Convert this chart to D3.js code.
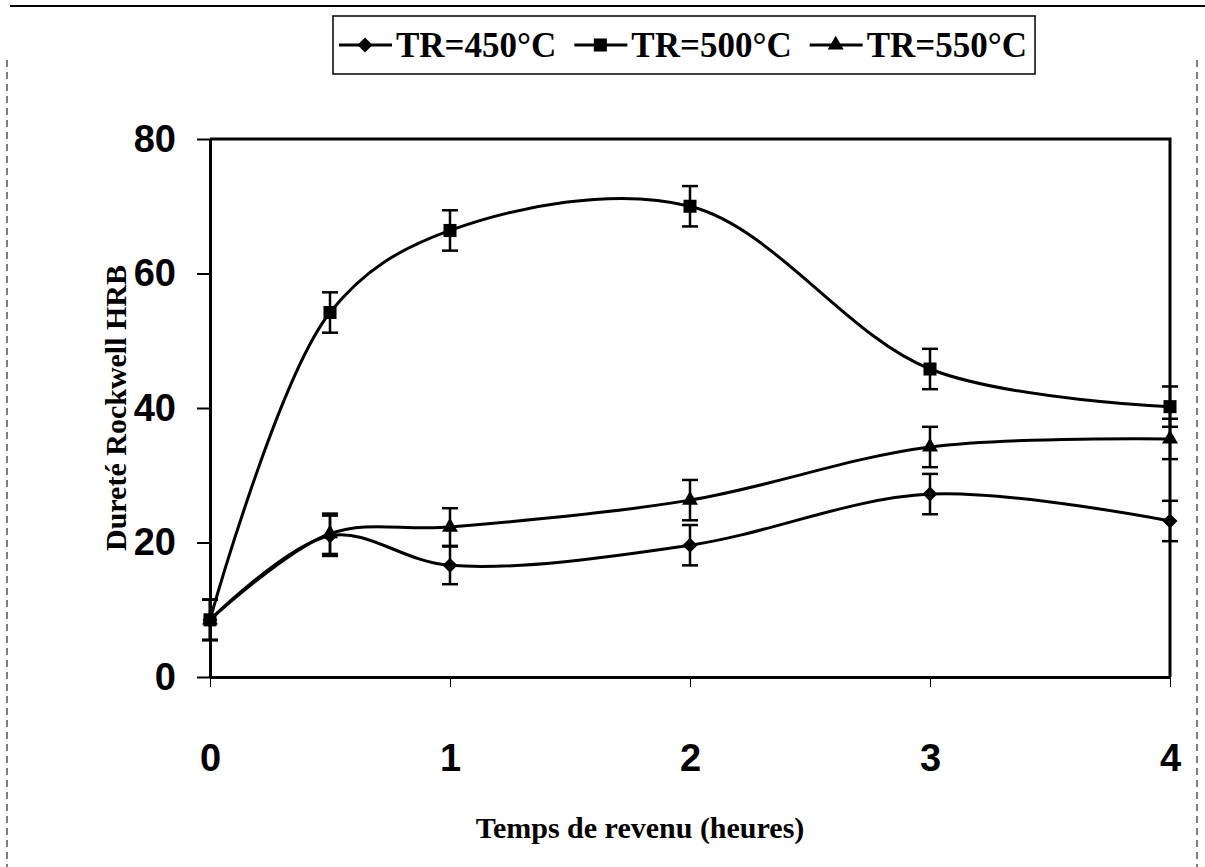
<!DOCTYPE html>
<html>
<head>
<meta charset="utf-8">
<script src="https://cdn.jsdelivr.net/npm/d3@7"></script>
<style>
    body { margin: 0; background: #fff; }
    svg { display: block; }
</style>
</head>
<body>
<script>
// temps de revenu (heures) and mean hardness per tempering temperature
var hours = [0, 0.5, 1, 2, 3, 4];
var hrb450 = [8.5, 21.0, 16.6, 19.6, 27.2, 23.2];
var hrb500 = [8.5, 54.2, 66.4, 70.0, 45.8, 40.2];
var hrb550 = [8.5, 21.3, 22.3, 26.3, 34.2, 35.4];
var err450 = [3, 3, 2.8, 3, 3, 3];
var err500 = [3, 3, 3, 3, 3, 3];
var err550 = [3, 3, 2.8, 3, 3, 3];
var seriesNames = ["TR=450°C", "TR=500°C", "TR=550°C"];
var xTicks = [0, 1, 2, 3, 4];
var yTicks = [0, 20, 40, 60, 80];

var w = 1205,
    h = 867,
    plotLeft = 210,
    plotRight = 1170,
    plotTop = 139,
    plotBottom = 677;

var svg = d3.select("body").append("svg")
    .attr("width", w)
    .attr("height", h);

svg.append("rect").attr("width", w).attr("height", h).attr("fill", "#fff");

// scanned page border
svg.append("line")
    .attr("x1", 10).attr("x2", w).attr("y1", 6).attr("y2", 6)
    .attr("stroke", "#000").attr("stroke-width", 2);
svg.append("line")
    .attr("x1", 7).attr("x2", 7).attr("y1", 60).attr("y2", h)
    .attr("stroke", "#000").attr("stroke-width", 1).attr("stroke-dasharray", "7,5");
svg.append("line")
    .attr("x1", 1197).attr("x2", 1197).attr("y1", 60).attr("y2", h)
    .attr("stroke", "#000").attr("stroke-width", 1).attr("stroke-dasharray", "7,5");

var xScale = d3.scaleLinear().domain([0, 4]).range([plotLeft, plotRight]);
var yScale = d3.scaleLinear().domain([0, 80]).range([plotBottom, plotTop]);

var yAxisGen = d3.axisLeft(yScale).tickValues(yTicks).tickFormat(d3.format("d"))
    .tickSize(13).tickSizeOuter(0).tickPadding(21);
var xAxisGen = d3.axisBottom(xScale).tickValues(xTicks).tickFormat(d3.format("d"))
    .tickSize(10).tickSizeOuter(0).tickPadding(57);

var yAxis = svg.append("g")
    .attr("transform", "translate(" + plotLeft + ",0)")
    .call(yAxisGen);
yAxis.select(".domain").attr("stroke-width", 3);
yAxis.selectAll(".tick line").attr("stroke-width", 2);
yAxis.selectAll("text")
    .attr("font-family", "'Liberation Sans', Arial, sans-serif")
    .attr("font-weight", "bold")
    .attr("font-size", 38)
    .attr("fill", "#000");

var xAxis = svg.append("g")
    .attr("transform", "translate(0," + plotBottom + ")")
    .call(xAxisGen);
xAxis.select(".domain").attr("stroke-width", 3);
xAxis.selectAll(".tick line").attr("stroke-width", 1);
xAxis.selectAll("text")
    .attr("font-family", "'Liberation Sans', Arial, sans-serif")
    .attr("font-weight", "bold")
    .attr("font-size", 38)
    .attr("fill", "#000");

// top and right edges of the plot frame
svg.append("path")
    .attr("d", "M" + plotLeft + "," + plotTop + "H" + plotRight + "V" + plotBottom)
    .attr("fill", "none").attr("stroke", "#000").attr("stroke-width", 3);

svg.append("text")
    .attr("x", 640).attr("y", 838)
    .attr("text-anchor", "middle")
    .attr("font-family", "'Liberation Serif', 'Times New Roman', serif")
    .attr("font-weight", "bold")
    .attr("font-size", 30)
    .text("Temps de revenu (heures)");

svg.append("text")
    .attr("transform", "translate(126,408) rotate(-90)")
    .attr("text-anchor", "middle")
    .attr("font-family", "'Liberation Serif', 'Times New Roman', serif")
    .attr("font-weight", "bold")
    .attr("font-size", 30)
    .text("Dureté Rockwell HRB");

var lineFn = d3.line()
    .x(function (d) { return xScale(d.x); })
    .y(function (d) { return yScale(d.y); })
    .curve(d3.curveCatmullRom.alpha(0.5));

var symbols = [
    d3.symbol().type(d3.symbolSquare).size(112),
    d3.symbol().type(d3.symbolSquare).size(170),
    d3.symbol().type(d3.symbolTriangle).size(110)
];
var rotations = [45, 0, 0];

function buildSeries(vals, errs, i) {
    var pts = hours.map(function (hr, j) {
        return { x: hr, y: vals[j], e: errs[j] };
    });
    var g = svg.append("g");

    g.append("path")
        .attr("d", lineFn(pts))
        .attr("fill", "none")
        .attr("stroke", "#000")
        .attr("stroke-width", 3);

    var bars = g.selectAll(".err").data(pts).enter().append("g");
    bars.append("line")
        .attr("x1", function (d) { return xScale(d.x); })
        .attr("x2", function (d) { return xScale(d.x); })
        .attr("y1", function (d) { return yScale(d.y - d.e); })
        .attr("y2", function (d) { return yScale(d.y + d.e); })
        .attr("stroke", "#000").attr("stroke-width", 2.5);
    [-1, 1].forEach(function (s) {
        bars.append("line")
            .attr("x1", function (d) { return xScale(d.x) - 8; })
            .attr("x2", function (d) { return xScale(d.x) + 8; })
            .attr("y1", function (d) { return yScale(d.y + s * d.e); })
            .attr("y2", function (d) { return yScale(d.y + s * d.e); })
            .attr("stroke", "#000").attr("stroke-width", 2.5);
    });

    g.selectAll(".mark").data(pts).enter().append("path")
        .attr("d", symbols[i])
        .attr("transform", function (d) {
            return "translate(" + xScale(d.x) + "," + yScale(d.y) + ") rotate(" + rotations[i] + ")";
        })
        .attr("fill", "#000");
}

buildSeries(hrb450, err450, 0);
buildSeries(hrb500, err500, 1);
buildSeries(hrb550, err550, 2);

// legend
var legend = svg.append("g");
var box = legend.append("rect")
    .attr("x", 333).attr("y", 16).attr("height", 58)
    .attr("fill", "#fff").attr("stroke", "#000").attr("stroke-width", 1.5);

var cx = 339;
seriesNames.forEach(function (name, i) {
    legend.append("line")
        .attr("x1", cx).attr("x2", cx + 53).attr("y1", 45).attr("y2", 45)
        .attr("stroke", "#000").attr("stroke-width", 3);
    legend.append("path")
        .attr("d", symbols[i])
        .attr("transform", "translate(" + (cx + 26) + ",45) rotate(" + rotations[i] + ")")
        .attr("fill", "#000");
    var t = legend.append("text")
        .attr("x", cx + 57).attr("y", 57)
        .attr("font-family", "'Liberation Serif', 'Times New Roman', serif")
        .attr("font-weight", "bold")
        .attr("font-size", 35)
        .text(name);
    cx = cx + 57 + t.node().getComputedTextLength() + 18;
});
box.attr("width", cx - 333 - 10);
</script>
</body>
</html>
